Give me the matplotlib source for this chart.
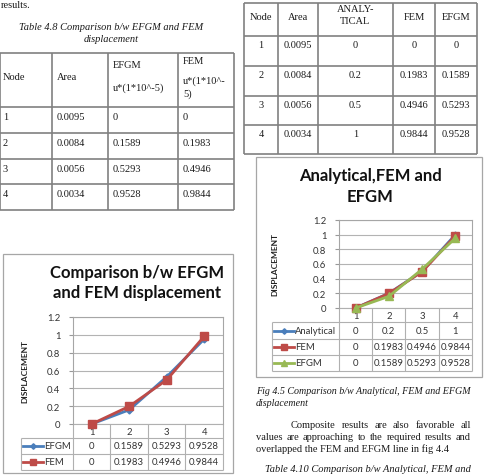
import numpy as np
import matplotlib
matplotlib.use("Agg")
from matplotlib import pyplot as plt
from matplotlib.patches import Rectangle

# data
nodes = [1, 2, 3, 4]
area = [0.0095, 0.0084, 0.0056, 0.0034]
analytical = [0, 0.2, 0.5, 1]
fem = [0, 0.1983, 0.4946, 0.9844]
efgm = [0, 0.1589, 0.5293, 0.9528]
yticks = [0, 0.2, 0.4, 0.6, 0.8, 1, 1.2]

W, H = 485, 477
SERIF = "Liberation Serif"
SANS = "Lato"
BLUE, RED, GREEN = "#4A7EBB", "#BE4B48", "#98B954"
TXT = "#1a1a1a"
TBL = "#808080"

fig = plt.figure(figsize=(W / 100, H / 100), dpi=100)
fig.patch.set_facecolor("white")

# background axes in pixel coords (y down) for the page text and tables
bg = fig.add_axes([0, 0, 1, 1])
bg.set_xlim(0, W)
bg.set_ylim(H, 0)
bg.axis("off")


def px_axes(l, t, r, b):
    return fig.add_axes([l / W, 1 - b / H, (r - l) / W, (b - t) / H])


def hline(y, x0, x1, **kw):
    bg.plot([x0, x1], [y, y], solid_capstyle="butt", **kw)


def vline(x, y0, y1, **kw):
    bg.plot([x, x], [y0, y1], solid_capstyle="butt", **kw)


def serif(x, y, s, **kw):
    kw.setdefault("fontsize", 7.5)
    kw.setdefault("va", "center")
    return bg.text(x, y, s, family=SERIF, color=TXT, **kw)


def justified(line, x0, x1, y, **kw):
    words = line.split()
    texts = [serif(0, y, w, **kw) for w in words]
    r = fig.canvas.get_renderer()
    widths = [t.get_window_extent(r).width for t in texts]
    gap = (x1 - x0 - sum(widths)) / (len(words) - 1)
    x = x0
    for t, w in zip(texts, widths):
        t.set_x(x)
        x += w + gap


# ---------------- left page column ----------------
serif(1, 6, "results.")
serif(111, 27, "Table 4.8 Comparison b/w EFGM and FEM", ha="center", style="italic")
serif(111, 39, "displacement", ha="center", style="italic")

lc = [0, 52, 108, 178, 234]
lr = [54, 108, 134, 160, 185, 211]
for x in lc:
    vline(x, lr[0], lr[-1], color=TBL, lw=1.2)
for y in lr:
    hline(y, lc[0], lc[-1], color=TBL, lw=1.2)
serif(3, 77, "Node")
serif(lc[1] + 5, 77, "Area")
serif(lc[2] + 5, 66, "EFGM")
serif(lc[2] + 5, 88, "u*(1*10^-5)")
serif(lc[3] + 5, 61, "FEM")
serif(lc[3] + 5, 81, "u*(1*10^-")
serif(lc[3] + 5, 94, "5)")
for i in range(len(nodes)):
    y = lr[i + 1] + 9.5
    serif(3, y, str(nodes[i]))
    serif(lc[1] + 5, y, f"{area[i]:.4f}")
    serif(lc[2] + 5, y, f"{efgm[i]:g}")
    serif(lc[3] + 5, y, f"{fem[i]:g}")

# ---------------- right page column ----------------
rc = [244, 278, 318, 393, 435, 477]
rr = [4, 37, 67, 97, 126, 155]
for x in rc:
    vline(x, rr[0], rr[-1], color=TBL, lw=1.2)
for y in rr:
    hline(y, rc[0], rc[-1], color=TBL, lw=1.2)
cx = [(a + b) / 2 for a, b in zip(rc[:-1], rc[1:])]
serif(cx[0], 17, "Node", ha="center")
serif(cx[1], 17, "Area", ha="center")
serif(cx[2], 10, "ANALY-", ha="center")
serif(cx[2], 22, "TICAL", ha="center")
serif(cx[3], 17, "FEM", ha="center")
serif(cx[4], 17, "EFGM", ha="center")
for i in range(len(nodes)):
    y = rr[i + 1] + 8.5
    serif(cx[0], y, str(nodes[i]), ha="center")
    serif(cx[1], y, f"{area[i]:.4f}", ha="center")
    serif(cx[2], y, f"{analytical[i]:g}", ha="center")
    serif(cx[3], y, f"{fem[i]:g}", ha="center")
    serif(cx[4], y, f"{efgm[i]:g}", ha="center")

serif(256, 392, "Fig 4.5 Comparison b/w Analytical, FEM and EFGM", style="italic",
      fontsize=7.2)
serif(256, 404, "displacement", style="italic", fontsize=7.2)
justified("Composite results are also favorable all", 291, 471, 426)
justified("values are approaching to the required results and", 256, 471, 438)
serif(256, 449, "overlapped the FEM and EFGM line in fig 4.4")
serif(368, 470, "Table 4.10 Comparison b/w Analytical, FEM and", ha="center", style="italic")


# ---------------- charts ----------------
def chart(box, plot, title, title_x, title_y, title_fs, ylab_x, series, leg_left, rows, fs):
    bl, bt, br, bb = box
    bg.add_patch(Rectangle((bl, bt), br - bl, bb - bt, fill=False,
                           ec="#a6a6a6", lw=0.9))
    pl, pt, pr, pb = plot
    for line, ty in zip(title, title_y):
        bg.text(title_x, ty, line, ha="center", va="center", family=SANS,
                weight="bold", fontsize=title_fs, color="#111111")
    bg.text(ylab_x, (pt + pb) / 2, "DISPLACEMENT", rotation=90, ha="center",
            va="center", family=SANS, weight="bold", fontsize=fs - 0.8,
            color="#222222")

    ax = px_axes(pl, pt, pr, pb)
    ax.set_facecolor("none")
    ax.set_xlim(0.5, len(nodes) + 0.5)
    ax.set_ylim(0, 1.2)
    ax.set_yticks(yticks)
    ax.set_yticklabels([f"{v:g}" for v in yticks], family=SANS, fontsize=fs,
                       color="#333333")
    ax.set_xticks([])
    ax.grid(axis="y", color="#b3b3b3", lw=0.8)
    ax.tick_params(axis="y", length=3, width=0.8, color="#999999", pad=6)
    for s in ["left", "right", "top"]:
        ax.spines[s].set_color("#a6a6a6")
        ax.spines[s].set_linewidth(0.8)
    ax.spines["bottom"].set_visible(False)
    for name, vals, col, mk, ms in series:
        ax.plot(nodes, vals, color=col, lw=2, marker=mk, ms=ms, mfc=col,
                mec=col, clip_on=False)

    # data table under the plot
    xs = np.linspace(pl, pr, len(nodes) + 1)
    tcol = "#b0b0b0"
    for x in xs:
        vline(x, rows[0], rows[-1], color=tcol, lw=0.8)
    vline(leg_left, rows[1], rows[-1], color=tcol, lw=0.8)
    hline(rows[0], pl, pr, color=tcol, lw=0.8)
    for y in rows[1:]:
        hline(y, leg_left, pr, color=tcol, lw=0.8)
    centers = (xs[:-1] + xs[1:]) / 2
    for c, n in zip(centers, nodes):
        bg.text(c, (rows[0] + rows[1]) / 2 + 0.5, str(n), ha="center",
                va="center", family=SANS, fontsize=fs, color="#333333")
    for k, (name, vals, col, mk, ms) in enumerate(series):
        ym = (rows[k + 1] + rows[k + 2]) / 2
        bg.plot([leg_left + 2, leg_left + 22], [ym, ym], color=col, lw=2)
        bg.plot([leg_left + 12], [ym], marker=mk, ms=ms * 0.8, color=col)
        bg.text(leg_left + 23, ym, name, ha="left", va="center", family=SANS,
                fontsize=fs, color="#333333")
        for c, v in zip(centers, vals):
            bg.text(c, ym, f"{v:g}", ha="center", va="center", family=SANS,
                    fontsize=fs, color="#333333")


chart(box=(3, 255, 233, 474), plot=(73, 318, 223, 425),
      title=["Comparison b/w EFGM", "and FEM displacement"], title_x=137,
      title_y=[273, 293], title_fs=12, ylab_x=25,
      series=[("EFGM", efgm, BLUE, "D", 3.5), ("FEM", fem, RED, "s", 6)],
      leg_left=21, rows=[425, 439, 455, 471], fs=6.8)

chart(box=(256, 158, 482, 378), plot=(339, 221, 472, 309),
      title=["Analytical,FEM and", "EFGM"], title_x=370,
      title_y=[176, 197], title_fs=12, ylab_x=275,
      series=[("Analytical", analytical, BLUE, "D", 3.5), ("FEM", fem, RED, "s", 5.5),
              ("EFGM", efgm, GREEN, "^", 6)],
      leg_left=272, rows=[309, 323, 340, 356, 372], fs=6.8)

fig.savefig("out.png", dpi=100)
